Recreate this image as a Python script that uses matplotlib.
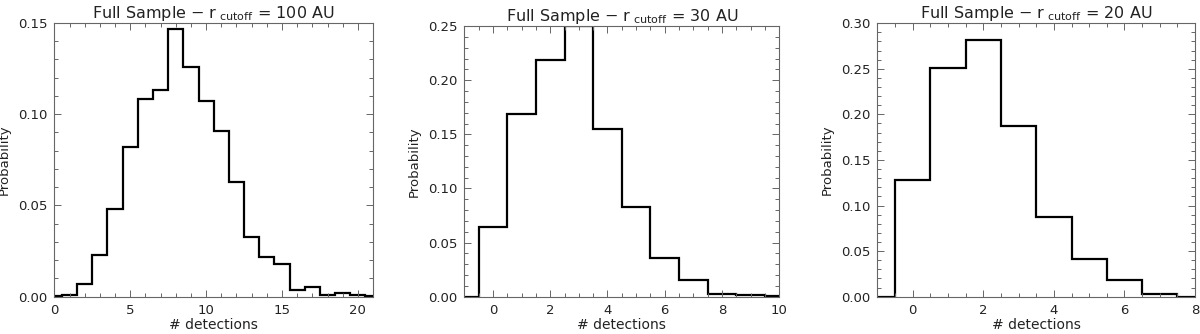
import numpy as np
import matplotlib
matplotlib.use('Agg')
import matplotlib.pyplot as plt
from matplotlib.ticker import MultipleLocator

# probability per number of detections (bin centred on integers)
det_100 = np.arange(0, 22)
prob_100 = [0.0005, 0.001, 0.0069, 0.023, 0.048, 0.082, 0.108, 0.113, 0.1465, 0.126,
            0.107, 0.091, 0.063, 0.0327, 0.0218, 0.018, 0.0038, 0.0051, 0.0011, 0.0018,
            0.0011, 0.0002]

det_30 = np.arange(-1, 11)
prob_30 = [0.0, 0.0643, 0.169, 0.219, 0.2497, 0.155, 0.0825, 0.0354, 0.0154, 0.0022,
           0.0012, 0.0003]

det_20 = np.arange(-1, 9)
prob_20 = [0.0, 0.128, 0.251, 0.281, 0.187, 0.0874, 0.0417, 0.0183, 0.0033, 0.0]

panels = [
    # data, xlim, ylim, xmajor, xminor, title cutoff, axes rect
    (det_100, prob_100, (0, 21), (0, 0.15), 5, 1, '100', [0.0453, 0.1117, 0.2656, 0.820]),
    (det_30, prob_30, (-1, 10), (0, 0.25), 2, 0.5, '30', [0.3869, 0.1117, 0.2625, 0.810]),
    (det_20, prob_20, (-1, 8), (0, 0.30), 2, 0.5, '20', [0.7311, 0.1117, 0.2648, 0.819]),
]

txt = '#222222'
plt.rcParams['font.family'] = 'DejaVu Sans'

fig = plt.figure(figsize=(12, 3.34), dpi=100)

for det, prob, xlim, ylim, xmaj, xmin, cut, rect in panels:
    ax = fig.add_axes(rect)
    edges = np.append(det - 0.5, det[-1] + 0.5)
    ax.stairs(prob, edges, baseline=None, color='black', linewidth=1.6)
    ax.set_xlim(*xlim)
    ax.set_ylim(*ylim)
    ax.xaxis.set_major_locator(MultipleLocator(xmaj))
    ax.xaxis.set_minor_locator(MultipleLocator(xmin))
    ax.yaxis.set_major_locator(MultipleLocator(0.05))
    ax.yaxis.set_minor_locator(MultipleLocator(0.01))
    ax.yaxis.set_major_formatter(plt.FormatStrFormatter('%.2f'))
    ax.tick_params(which='both', direction='in', top=True, right=True,
                   colors='#666666', labelcolor=txt, labelsize=9.5, width=0.7)
    ax.tick_params(which='major', length=5, pad=5)
    ax.tick_params(which='minor', length=3)
    for s in ax.spines.values():
        s.set_color('#666666')
        s.set_linewidth(0.8)
    ax.set_title(r'Full Sample $-$ r$_{\rm\ cutoff}$ = ' + cut + ' AU',
                 fontsize=11.5, color=txt, pad=3)
    ax.set_xlabel('# detections', fontsize=10, color=txt, labelpad=1)
    ax.set_ylabel('Probability', fontsize=9.5, color=txt, labelpad=5)

fig.savefig('out.png', dpi=100)
